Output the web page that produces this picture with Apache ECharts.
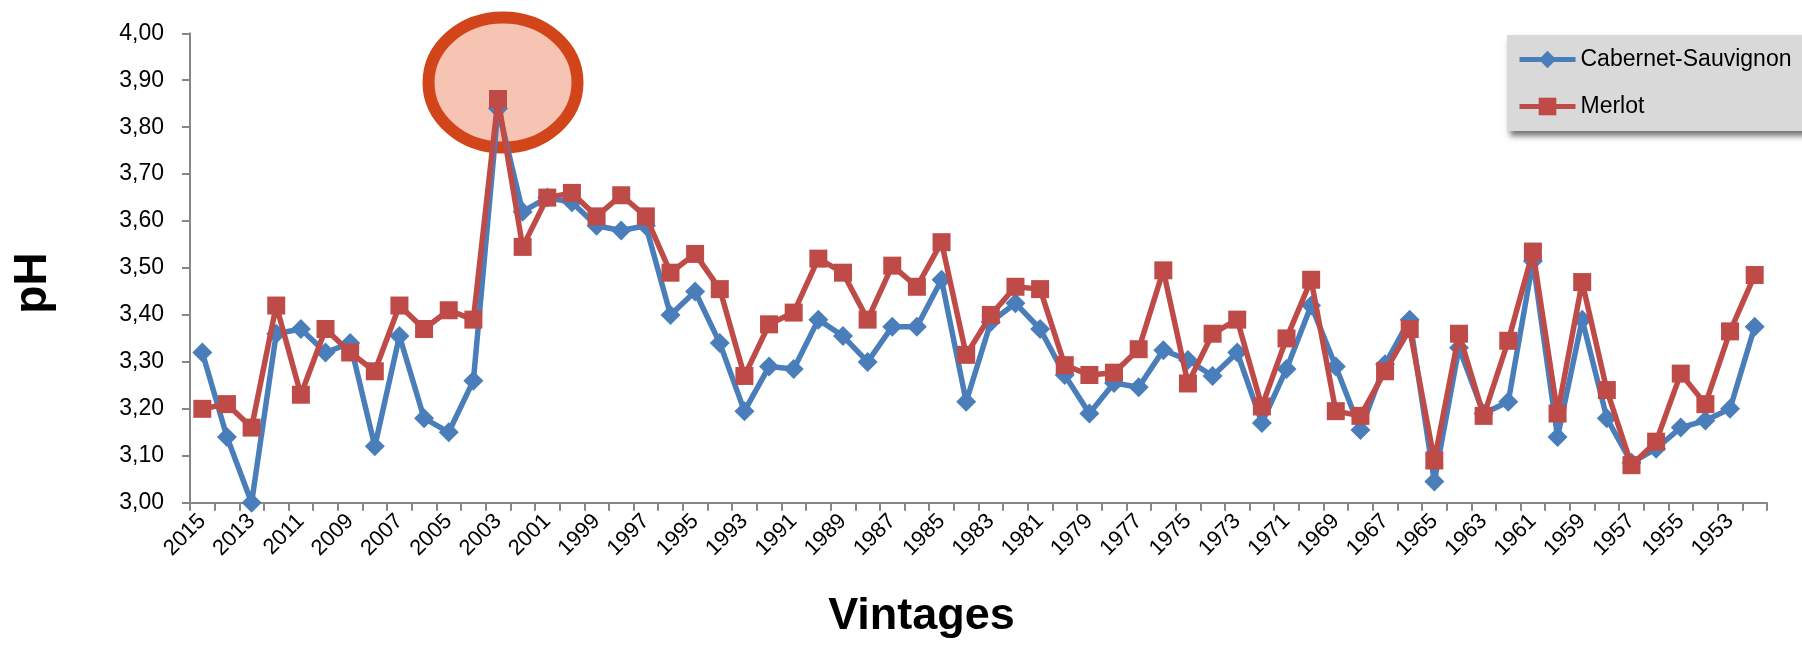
<!DOCTYPE html>
<html>
<head>
<meta charset="utf-8">
<script src="https://cdn.jsdelivr.net/npm/echarts@6/dist/echarts.min.js"></script>
<style>
  html, body { margin: 0; padding: 0; background: #ffffff; }
  #chart { width: 1802px; height: 646px; }
</style>
</head>
<body>
<div id="chart"></div>
<script>
// Vintages, newest first
const vintages = [
  '2015','2014','2013','2012','2011','2010','2009','2008','2007','2006',
  '2005','2004','2003','2002','2001','2000','1999','1998','1997','1996',
  '1995','1994','1993','1992','1991','1990','1989','1988','1987','1986',
  '1985','1984','1983','1982','1981','1980','1979','1978','1977','1976',
  '1975','1974','1973','1972','1971','1970','1969','1968','1967','1966',
  '1965','1964','1963','1962','1961','1960','1959','1958','1957','1956',
  '1955','1954','1953','1952'
];

// pH per vintage
const cabernetSauvignon = [
  3.32, 3.14, 3.00, 3.36, 3.37, 3.32, 3.34, 3.12, 3.355, 3.18,
  3.15, 3.26, 3.84, 3.62, 3.65, 3.64, 3.59, 3.58, 3.59, 3.40,
  3.45, 3.34, 3.195, 3.29, 3.285, 3.39, 3.355, 3.30, 3.375, 3.375,
  3.475, 3.215, 3.385, 3.425, 3.37, 3.272, 3.19, 3.255, 3.246, 3.325,
  3.304, 3.27, 3.32, 3.17, 3.285, 3.42, 3.29, 3.155, 3.295, 3.39,
  3.045, 3.33, 3.19, 3.215, 3.515, 3.14, 3.39, 3.18, 3.085, 3.115,
  3.16, 3.175, 3.20, 3.375
];

const merlot = [
  3.20, 3.21, 3.16, 3.42, 3.23, 3.37, 3.32, 3.28, 3.42, 3.37,
  3.41, 3.39, 3.86, 3.545, 3.65, 3.66, 3.61, 3.655, 3.61, 3.49,
  3.53, 3.455, 3.27, 3.38, 3.405, 3.52, 3.49, 3.39, 3.505, 3.46,
  3.555, 3.315, 3.40, 3.46, 3.455, 3.293, 3.272, 3.277, 3.327, 3.495,
  3.254, 3.36, 3.39, 3.205, 3.35, 3.475, 3.195, 3.185, 3.28, 3.37,
  3.09, 3.36, 3.185, 3.345, 3.535, 3.19, 3.47, 3.24, 3.08, 3.13,
  3.275, 3.21, 3.365, 3.485
];

const seriesNames = ['Cabernet-Sauvignon', 'Merlot'];
const xTitle = 'Vintages';
const yTitle = 'pH';

// highlighted vintage (ring around its peak)
const highlightVintage = '2003';
const highlightLevel = 3.895;

const FONT = '"Liberation Sans", Arial, sans-serif';
const AXIS_GREY = '#868686';
const BLUE = '#4a7ebb';
const RED = '#be4b48';

const chart = echarts.init(document.getElementById('chart'), null, { renderer: 'canvas' });

const option = {
  animation: false,
  backgroundColor: '#ffffff',
  grid: { left: 190, right: 35, top: 33.3, bottom: 143.3, containLabel: false },
  legend: {
    orient: 'vertical',
    left: 1507,
    top: 35,
    padding: [13, 40, 13, 10],
    itemGap: 24,
    itemWidth: 56,
    itemHeight: 22,
    backgroundColor: '#d9d9d9',
    shadowBlur: 6,
    shadowOffsetX: 3,
    shadowOffsetY: 5,
    shadowColor: 'rgba(0,0,0,0.55)',
    lineStyle: { width: 5 },
    textStyle: { fontFamily: FONT, fontSize: 23, color: '#000' },
    data: seriesNames
  },
  xAxis: {
    type: 'category',
    data: vintages,
    boundaryGap: true,
    axisLine: { lineStyle: { color: AXIS_GREY, width: 2 } },
    axisTick: { show: true, interval: 0, length: 8, lineStyle: { color: AXIS_GREY, width: 2 } },
    axisLabel: {
      interval: 1,
      rotate: 45,
      margin: 15,
      fontFamily: FONT,
      fontSize: 22,
      color: '#000'
    },
    splitLine: { show: false }
  },
  yAxis: {
    type: 'value',
    min: 3,
    max: 4,
    interval: 0.1,
    axisLine: { show: true, lineStyle: { color: AXIS_GREY, width: 2 } },
    axisTick: { show: true, length: 8, lineStyle: { color: AXIS_GREY, width: 2 } },
    axisLabel: {
      margin: 26,
      fontFamily: FONT,
      fontSize: 23,
      color: '#000',
      formatter: v => v.toFixed(2).replace('.', ',')
    },
    splitLine: { show: false }
  },
  series: [
    {
      name: seriesNames[0],
      type: 'line',
      data: cabernetSauvignon,
      symbol: 'diamond',
      symbolSize: 20,
      showAllSymbol: true,
      color: BLUE,
      lineStyle: { width: 5.5, color: BLUE },
      itemStyle: { color: BLUE },
      z: 3
    },
    {
      name: seriesNames[1],
      type: 'line',
      data: merlot,
      symbol: 'rect',
      symbolSize: 18,
      showAllSymbol: true,
      color: RED,
      lineStyle: { width: 5.5, color: RED },
      itemStyle: { color: RED },
      z: 4
    }
  ]
};

chart.setOption(option);

// ring annotation and axis titles, placed from the axes' own scale
const c = chart.convertToPixel({ xAxisIndex: 0, yAxisIndex: 0 }, [highlightVintage, highlightLevel]);
chart.setOption({
  graphic: [
    {
      type: 'ellipse',
      z: 1,
      shape: { cx: c[0] + 5, cy: c[1], rx: 74.5, ry: 65 },
      style: { fill: '#f7c4b3', stroke: '#d2451a', lineWidth: 12 }
    },
    {
      type: 'text',
      x: 33.5,
      y: 283,
      rotation: Math.PI / 2,
      style: {
        text: yTitle,
        fontFamily: FONT,
        fontSize: 46,
        fontWeight: 'bold',
        fill: '#000',
        align: 'center',
        verticalAlign: 'middle'
      }
    },
    {
      type: 'text',
      x: 921.5,
      y: 617,
      style: {
        text: xTitle,
        fontFamily: FONT,
        fontSize: 45,
        fontWeight: 'bold',
        fill: '#000',
        align: 'center',
        verticalAlign: 'middle'
      }
    }
  ]
});
</script>
</body>
</html>
